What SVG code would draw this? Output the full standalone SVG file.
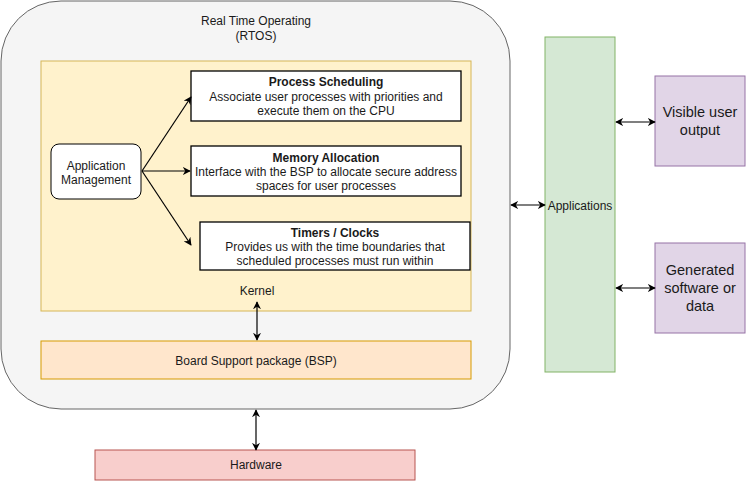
<svg xmlns="http://www.w3.org/2000/svg" width="746" height="481" viewBox="0 0 746 481">
<defs>
<marker id="arr" viewBox="0 0 10 10" refX="9" refY="5" markerWidth="8" markerHeight="8" orient="auto-start-reverse" markerUnits="userSpaceOnUse">
<path d="M0,0 L10,5 L0,10 L3,5 z" fill="#000"/>
</marker>
<style>
text{font-family:"Liberation Sans",Arial,sans-serif;fill:#1a1a1a;text-anchor:middle}
.t12{font-size:12px}
.t14{font-size:14.5px}
.b{font-weight:bold}
.box{fill:#fff;stroke:#000;stroke-width:1.3}
.con{stroke:#000;stroke-width:1.2;fill:none}
</style>
</defs>
<g id="rtos">
<rect x="1" y="1" width="509" height="408" rx="60" ry="60" fill="#f5f5f5" stroke="#666666"/>
<text class="t12" x="256" y="25">Real Time Operating</text>
<text class="t12" x="256" y="40">(RTOS)</text>
</g>
<g id="kernel">
<rect x="41" y="61" width="430" height="250" fill="#fff2cc" stroke="#d6b656"/>
<text class="t12" x="257" y="295">Kernel</text>
</g>
<g id="process-scheduling">
<rect class="box" x="191" y="71" width="270" height="50"/>
<text class="t12 b" x="326" y="86">Process Scheduling</text>
<text class="t12" x="326" y="101">Associate user processes with priorities and</text>
<text class="t12" x="326" y="115">execute them on the CPU</text>
</g>
<g id="memory-allocation">
<rect class="box" x="191" y="146" width="270" height="50"/>
<text class="t12 b" x="326" y="162">Memory Allocation</text>
<text class="t12" x="326" y="176">Interface with the BSP to allocate secure address</text>
<text class="t12" x="326" y="190">spaces for user processes</text>
</g>
<g id="timers-clocks">
<rect class="box" x="200" y="222" width="270" height="48"/>
<text class="t12 b" x="335" y="237">Timers / Clocks</text>
<text class="t12" x="335" y="251">Provides us with the time boundaries that</text>
<text class="t12" x="335" y="265">scheduled processes must run within</text>
</g>
<g id="application-management">
<rect x="51" y="144" width="90" height="55" rx="8" ry="8" fill="#fff" stroke="#000"/>
<text class="t12" x="96" y="170">Application</text>
<text class="t12" x="96" y="184">Management</text>
</g>
<g id="bsp">
<rect x="41" y="341" width="430" height="38" fill="#ffe6cc" stroke="#d79b00"/>
<text class="t12" x="256" y="365">Board Support package (BSP)</text>
</g>
<g id="hardware">
<rect x="95" y="450" width="320" height="30" fill="#f8cecc" stroke="#b85450"/>
<text class="t12" x="256" y="469">Hardware</text>
</g>
<g id="applications">
<rect x="545" y="37" width="70" height="335" fill="#d5e8d4" stroke="#82b366"/>
<text class="t12" x="580" y="210">Applications</text>
</g>
<g id="visible-user-output">
<rect x="655" y="76" width="90" height="90" fill="#e1d5e7" stroke="#9673a6"/>
<text class="t14" x="700" y="117">Visible user</text>
<text class="t14" x="700" y="135">output</text>
</g>
<g id="generated-software">
<rect x="655" y="243" width="90" height="90" fill="#e1d5e7" stroke="#9673a6"/>
<text class="t14" x="700" y="275">Generated</text>
<text class="t14" x="700" y="293">software or</text>
<text class="t14" x="700" y="311">data</text>
</g>
<g id="connectors">
<line class="con" x1="142" y1="171" x2="191" y2="97" marker-end="url(#arr)"/>
<line class="con" x1="142" y1="171" x2="190" y2="171" marker-end="url(#arr)"/>
<line class="con" x1="142" y1="171" x2="191" y2="245" marker-end="url(#arr)"/>
<line class="con" x1="257" y1="302" x2="257" y2="340" marker-start="url(#arr)" marker-end="url(#arr)"/>
<line class="con" x1="256" y1="410" x2="256" y2="450" marker-start="url(#arr)" marker-end="url(#arr)"/>
<line class="con" x1="511" y1="205" x2="545" y2="205" marker-start="url(#arr)" marker-end="url(#arr)"/>
<line class="con" x1="616" y1="122" x2="655" y2="122" marker-start="url(#arr)" marker-end="url(#arr)"/>
<line class="con" x1="616" y1="288" x2="655" y2="288" marker-start="url(#arr)" marker-end="url(#arr)"/>
</g>
</svg>
